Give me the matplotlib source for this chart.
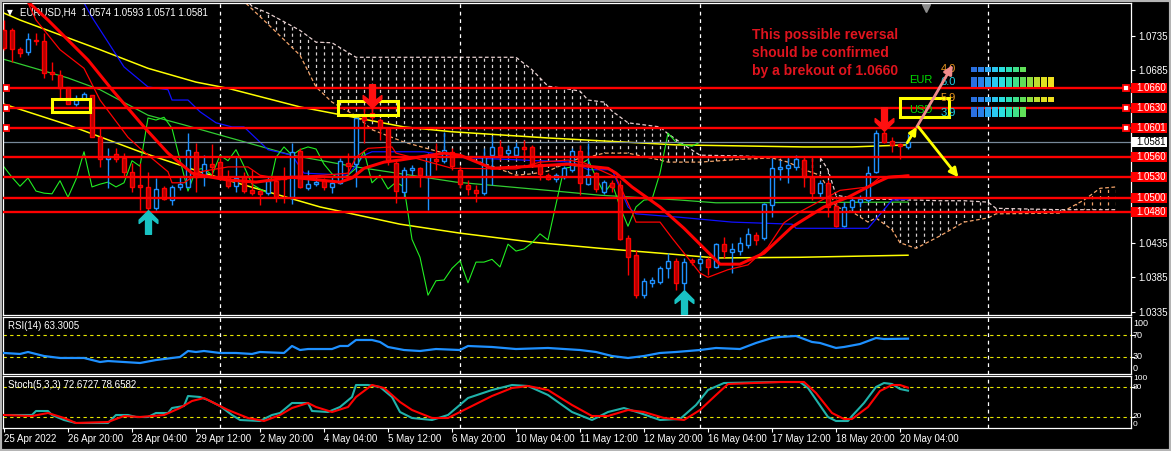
import numpy as np
import matplotlib.pyplot as plt
from matplotlib.patches import Rectangle
from matplotlib.path import Path
from matplotlib.transforms import blended_transform_factory

plt.rcParams['font.family'] = ['Liberation Sans', 'DejaVu Sans']

# ---------------- EURUSD H4 candles ----------------
opens = [1.0743, 1.0743, 1.0716, 1.0712, 1.0729, 1.0728, 1.0683, 1.0678, 1.0661, 1.0636,
         1.0643, 1.0649, 1.0588, 1.0556, 1.0564, 1.0558, 1.0538, 1.0519, 1.0516, 1.0485,
         1.0514, 1.0497, 1.0516, 1.0516, 1.0567, 1.0532, 1.0549, 1.0552, 1.0530, 1.0517,
         1.0530, 1.0511, 1.0510, 1.0507, 1.0525, 1.0530, 1.0501, 1.0568, 1.0514, 1.0520,
         1.0525, 1.0516, 1.0522, 1.0551, 1.0549, 1.0617, 1.0623, 1.0613, 1.0601, 1.0551,
         1.0509, 1.0541, 1.0543, 1.0532, 1.0556, 1.0554, 1.0567, 1.0541, 1.0519, 1.0511,
         1.0507, 1.0562, 1.0574, 1.0565, 1.0562, 1.0574, 1.0574, 1.0549, 1.0533, 1.0527,
         1.0530, 1.0541, 1.0568, 1.0520, 1.0536, 1.0509, 1.0522, 1.0519, 1.0442, 1.0417,
         1.0359, 1.0377, 1.0378, 1.0398, 1.0409, 1.0377, 1.0410, 1.0406, 1.0411, 1.0400,
         1.0433, 1.0422, 1.0423, 1.0432, 1.0446, 1.0442, 1.0490, 1.0542, 1.0543, 1.0545,
         1.0555, 1.0530, 1.0507, 1.0522, 1.0488, 1.0459, 1.0487, 1.0494, 1.0497, 1.0538,
         1.0594, 1.0583, 1.0578, 1.0574]
highs = [1.0758, 1.0746, 1.0719, 1.0739, 1.0739, 1.0739, 1.0697, 1.0686, 1.0661, 1.0649,
         1.0654, 1.0649, 1.0603, 1.0572, 1.0572, 1.0565, 1.0551, 1.0551, 1.0538, 1.0529,
         1.0517, 1.0519, 1.0532, 1.0594, 1.0580, 1.0562, 1.0578, 1.0558, 1.0541, 1.0559,
         1.0538, 1.0541, 1.0511, 1.0530, 1.0530, 1.0545, 1.0580, 1.0572, 1.0541, 1.0533,
         1.0529, 1.0530, 1.0558, 1.0565, 1.0616, 1.0632, 1.0630, 1.0616, 1.0603, 1.0555,
         1.0545, 1.0548, 1.0545, 1.0565, 1.0580, 1.0596, 1.0572, 1.0546, 1.0526, 1.0519,
         1.0572, 1.0590, 1.0584, 1.0577, 1.0581, 1.0584, 1.0577, 1.0555, 1.0536, 1.0536,
         1.0546, 1.0572, 1.0577, 1.0580, 1.0538, 1.0526, 1.0526, 1.0526, 1.0446, 1.0425,
         1.0384, 1.0385, 1.0401, 1.0420, 1.0413, 1.0413, 1.0413, 1.0417, 1.0414, 1.0435,
         1.0443, 1.0435, 1.0443, 1.0456, 1.0451, 1.0493, 1.0558, 1.0555, 1.0559, 1.0562,
         1.0559, 1.0559, 1.0526, 1.0526, 1.0493, 1.0494, 1.0501, 1.0504, 1.0546, 1.0598,
         1.0597, 1.0588, 1.0580, 1.0593]
lows = [1.0715, 1.0697, 1.0704, 1.0707, 1.0722, 1.0674, 1.0671, 1.0642, 1.0636, 1.0633,
        1.0642, 1.0588, 1.0545, 1.0514, 1.0552, 1.0530, 1.0509, 1.0483, 1.0483, 1.0483,
        1.0497, 1.0490, 1.0511, 1.0516, 1.0509, 1.0517, 1.0530, 1.0526, 1.0514, 1.0509,
        1.0507, 1.0504, 1.0490, 1.0504, 1.0494, 1.0493, 1.0491, 1.0514, 1.0511, 1.0517,
        1.0511, 1.0507, 1.0520, 1.0533, 1.0516, 1.0580, 1.0613, 1.0584, 1.0548, 1.0493,
        1.0501, 1.0533, 1.0516, 1.0483, 1.0541, 1.0551, 1.0541, 1.0514, 1.0504, 1.0494,
        1.0504, 1.0519, 1.0555, 1.0558, 1.0559, 1.0555, 1.0545, 1.0526, 1.0526, 1.0523,
        1.0527, 1.0538, 1.0504, 1.0519, 1.0509, 1.0506, 1.0509, 1.0439, 1.0388, 1.0355,
        1.0355, 1.0371, 1.0375, 1.0384, 1.0366, 1.0366, 1.0403, 1.0396, 1.0388, 1.0398,
        1.0413, 1.0391, 1.0417, 1.0427, 1.0432, 1.0439, 1.0472, 1.0526, 1.0522, 1.0541,
        1.0516, 1.0497, 1.0501, 1.0472, 1.0458, 1.0458, 1.0483, 1.0487, 1.0494, 1.0536,
        1.0580, 1.0567, 1.0556, 1.0571]
closes = [1.0717, 1.0716, 1.0710, 1.0730, 1.0728, 1.0681, 1.0680, 1.0659, 1.0636, 1.0642,
          1.0651, 1.0588, 1.0556, 1.0559, 1.0556, 1.0538, 1.0516, 1.0516, 1.0485, 1.0513,
          1.0498, 1.0516, 1.0520, 1.0570, 1.0530, 1.0549, 1.0545, 1.0530, 1.0517, 1.0529,
          1.0510, 1.0507, 1.0506, 1.0525, 1.0501, 1.0527, 1.0567, 1.0516, 1.0520, 1.0523,
          1.0516, 1.0522, 1.0554, 1.0546, 1.0616, 1.0613, 1.0617, 1.0601, 1.0555, 1.0510,
          1.0541, 1.0543, 1.0533, 1.0562, 1.0554, 1.0570, 1.0546, 1.0520, 1.0513, 1.0507,
          1.0559, 1.0574, 1.0562, 1.0570, 1.0574, 1.0571, 1.0549, 1.0535, 1.0527, 1.0533,
          1.0543, 1.0568, 1.0522, 1.0533, 1.0513, 1.0523, 1.0516, 1.0440, 1.0414, 1.0359,
          1.0380, 1.0381, 1.0398, 1.0409, 1.0377, 1.0407, 1.0407, 1.0411, 1.0400, 1.0433,
          1.0423, 1.0426, 1.0435, 1.0448, 1.0439, 1.0491, 1.0543, 1.0545, 1.0548, 1.0556,
          1.0530, 1.0507, 1.0522, 1.0487, 1.0459, 1.0487, 1.0497, 1.0498, 1.0536, 1.0594,
          1.0581, 1.0577, 1.0575, 1.0581]

date_labels = ['25 Apr 2022', '26 Apr 20:00', '28 Apr 04:00', '29 Apr 12:00', '2 May 20:00',
               '4 May 04:00', '5 May 12:00', '6 May 20:00', '10 May 04:00', '11 May 12:00',
               '12 May 20:00', '16 May 04:00', '17 May 12:00', '18 May 20:00', '20 May 04:00']
label_every = 8
week_breaks = [27, 57, 87, 123]

# ---------------- indicator lines (bar index, price) ----------------
ma_yel1_x = [0, 2, 12, 18, 24, 28, 37, 50, 56, 68, 84, 100, 106, 113]
ma_yel1_y = [1.0768, 1.0758, 1.0715, 1.0688, 1.0668, 1.0659, 1.0632, 1.0603, 1.0596, 1.0587,
             1.0577, 1.0574, 1.0574, 1.0577]
ma_yel2_x = [0, 8, 17, 24.5, 27, 39.5, 49.5, 57, 66, 74.5, 83, 89, 99.5, 113]
ma_yel2_y = [1.0636, 1.0606, 1.0567, 1.0538, 1.0529, 1.0487, 1.0462, 1.0449, 1.0436, 1.0427,
             1.0419, 1.0413, 1.0414, 1.0417]
ma_grn_x = [0, 8, 12, 18, 22.5, 28, 36, 44, 56.5, 68, 74.5, 84.5, 89, 113]
ma_grn_y = [1.0701, 1.0674, 1.0657, 1.0620, 1.0606, 1.0588, 1.0562, 1.0545, 1.0523, 1.0511,
            1.0504, 1.0497, 1.0493, 1.0494]
kijun_x = [10, 11, 15, 18, 20.5, 21, 23, 24.5, 26.5, 28.5, 30, 33, 36, 37.5, 43, 45, 46, 52.5,
           56.5, 71, 73, 76, 78, 79, 84.5, 91, 98.5, 99, 108, 110, 111, 113]
kijun_y = [1.0783, 1.0762, 1.0690, 1.0661, 1.0657, 1.0642, 1.0642, 1.0625, 1.0609, 1.0603,
           1.0603, 1.0570, 1.0562, 1.0536, 1.0533, 1.0562, 1.0567, 1.0567, 1.0559, 1.0552,
           1.0541, 1.0541, 1.0487, 1.0477, 1.0472, 1.0465, 1.0462, 1.0456, 1.0456, 1.0483,
           1.0497, 1.0498]
tenkan_x = [3, 4, 7, 10, 12, 15.5, 17, 20.5, 21, 22.5, 24.5, 28, 30.5, 32, 33.5, 40, 43, 44,
            45.5, 48.5, 49, 51, 56, 64, 67, 70.5, 72.5, 76.5, 78.5, 79, 82, 83.5, 87, 88, 90.5,
            93, 95.5, 97.5, 99.5, 104.5, 108, 109.5, 113]
tenkan_y = [1.0783, 1.0758, 1.0715, 1.0688, 1.0642, 1.0588, 1.0572, 1.0538, 1.0522, 1.0522,
            1.0538, 1.0545, 1.0545, 1.0533, 1.0530, 1.0533, 1.0536, 1.0559, 1.0572, 1.0574,
            1.0565, 1.0559, 1.0543, 1.0542, 1.0552, 1.0555, 1.0551, 1.0530, 1.0480, 1.0465,
            1.0465, 1.0442, 1.0391, 1.0385, 1.0396, 1.0403, 1.0429, 1.0464, 1.0480, 1.0511,
            1.0516, 1.0530, 1.0533]
ma_red_x = [2, 5.5, 10.5, 13.5, 17.5, 20.5, 23.5, 26, 28, 31.5, 36, 42, 43.5, 45, 47.5, 49.5,
            55, 57, 61, 66, 70.5, 75.5, 76.5, 78.5, 82, 85, 89.5, 92, 95, 98.5, 102.5, 105.5,
            109, 110.5, 113]
ma_red_y = [1.0795, 1.0758, 1.0700, 1.0657, 1.0603, 1.0565, 1.0536, 1.0530, 1.0526, 1.0523,
            1.0530, 1.0523, 1.0529, 1.0543, 1.0552, 1.0555, 1.0565, 1.0562, 1.0543, 1.0546,
            1.0549, 1.0543, 1.0536, 1.0516, 1.0487, 1.0456, 1.0404, 1.0404, 1.0420, 1.0458,
            1.0487, 1.0501, 1.0522, 1.0530, 1.0532]
chikou_shift = 26

# Ichimoku cloud spans
cloud_x = [29, 31, 33, 37, 39, 41, 44, 46, 50, 55, 58, 61, 64, 66, 68, 70, 72, 73, 75, 76,
           78, 82, 83, 85, 87, 92, 96, 98, 100, 102, 103, 104, 106, 108, 109, 111, 112, 114,
           117, 120, 123, 124, 132, 135, 137, 139]
span_b = [1.0804, 1.0778, 1.0768, 1.0743, 1.0726, 1.0725, 1.0704, 1.0704, 1.0704, 1.0704,
          1.0704, 1.0704, 1.0704, 1.0686, 1.0662, 1.0659, 1.0655, 1.0642, 1.0639, 1.0626,
          1.0609, 1.0603, 1.0593, 1.0577, 1.0562, 1.0561, 1.0559, 1.0559, 1.0559, 1.0559,
          1.0541, 1.0504, 1.0500, 1.0498, 1.0498, 1.0498, 1.0497, 1.0497, 1.0496, 1.0496,
          1.0494, 1.0485, 1.0483, 1.0483, 1.0483, 1.0483]
span_a = [1.0796, 1.0774, 1.0752, 1.0707, 1.0661, 1.0639, 1.0619, 1.0599, 1.0581, 1.0565,
          1.0558, 1.0546, 1.0533, 1.0535, 1.0539, 1.0549, 1.0558, 1.0559, 1.0565, 1.0565,
          1.0565, 1.0555, 1.0552, 1.0552, 1.0552, 1.0556, 1.0558, 1.0552, 1.0541, 1.0533,
          1.0514, 1.0487, 1.0480, 1.0465, 1.0471, 1.0454, 1.0435, 1.0427, 1.0445, 1.0465,
          1.0471, 1.0477, 1.0478, 1.0497, 1.0514, 1.0516]

levels = [1.0660, 1.0630, 1.0601, 1.0560, 1.0530, 1.0500, 1.0480]
marked_levels = [1.0660, 1.0630, 1.0601]
bid = 1.0581

# RSI(14)
rsi_x = [0, 2, 3, 5, 7, 10, 12, 13, 15, 17, 19, 21, 22, 23, 24, 25, 27, 29, 31, 32, 35, 36, 37,
         38, 41, 42, 43, 44, 46, 47, 48, 50, 52, 54, 57, 58, 61, 64, 68, 72, 74, 76, 78, 80, 82,
         84, 87, 89, 92, 94, 96, 97, 99, 101, 102, 104, 105, 107, 109, 110, 113]
rsi_v = [37.3, 35.5, 39.1, 31.8, 28.2, 28.2, 20.9, 22.7, 20.9, 19.1, 24.5, 28.2, 30.0, 40.9,
         39.1, 40.9, 37.3, 37.3, 35.5, 39.1, 37.3, 50.0, 42.7, 44.5, 44.5, 50.0, 50.0, 60.9,
         60.9, 57.3, 48.2, 42.7, 40.9, 44.5, 42.7, 50.0, 48.2, 44.5, 46.4, 42.7, 39.1, 31.8,
         28.2, 31.8, 37.3, 39.1, 42.7, 46.4, 44.5, 55.5, 64.5, 66.4, 68.2, 57.3, 55.5, 46.4,
         48.2, 53.6, 64.5, 62.7, 63.3]

# Stochastic(5,3,3)
sto_x = [0, 3.5, 4, 5.5, 6, 7.5, 9, 13, 14, 15.5, 16.5, 18, 19, 20.5, 21, 22.5, 23, 24.5, 25.5,
         27, 28.5, 29.5, 32, 33.5, 34.5, 36, 38, 38.5, 40.5, 42, 43.5, 44, 45.5, 47, 48.5, 49.5,
         51, 53.5, 55.5, 58, 61, 63.5, 65.5, 68, 71, 73.5, 75.5, 77.5, 79.5, 82, 84.5, 86.5, 88,
         90, 97, 99.5, 100.5, 103, 104, 105.5, 106, 107.5, 109, 110, 111, 112, 113]
sto_main = [24, 24, 32, 32, 24, 14, 8, 8, 24, 24, 20, 20, 28, 28, 38, 42, 62, 60, 54, 42, 24,
            14, 12, 24, 28, 48, 48, 32, 30, 40, 60, 84, 84, 80, 60, 30, 18, 14, 24, 58, 74, 84,
            82, 64, 30, 14, 30, 38, 28, 14, 16, 44, 74, 88, 90, 90, 78, 20, 12, 12, 22, 48, 80,
            88, 86, 76, 72.7]
sig_x = [0, 3.5, 5.5, 7.5, 9, 13, 15, 17, 20, 22, 23.5, 25, 26, 28, 30.5, 32.5, 34.5, 36, 38,
         39, 41, 43, 44, 46, 47.5, 49.5, 51, 53.5, 55.5, 58, 61, 63.5, 65.5, 68, 71, 73.5, 75.5,
         78, 80, 82.5, 85, 87, 89, 90.5, 97, 100, 101.5, 103.5, 105, 106, 108, 109.5, 111, 112,
         113]
sto_sig = [24, 22, 28, 18, 8, 10, 22, 20, 24, 38, 52, 58, 50, 34, 18, 12, 24, 38, 48, 40, 30,
           40, 60, 84, 78, 50, 34, 18, 18, 38, 62, 78, 82, 74, 44, 22, 22, 34, 30, 18, 14, 34,
           64, 86, 90, 90, 68, 28, 16, 16, 40, 72, 84, 84, 78.7]

# chart objects
up_arrow_bars = [18, 85]
down_arrow_bars = [46, 110]
boxes = [(6.0, 10.75, 1.0625, 1.0643), (41.75, 49.25, 1.0620, 1.0640), (112.0, 118.1, 1.0617, 1.0645)]
note_lines = ['This possible reversal', 'should be confirmed', 'by a brekout of 1.0660']
strength = [4.0, 6.0, 5.9, 3.9]

# ---------------- figure ----------------
W, H = 1171, 451
fig = plt.figure(figsize=(W / 100, H / 100), dpi=100, facecolor='black')


def frame(top, bottom):
    return [3 / W, 1 - bottom / H, 1128 / W, (bottom - top) / H]


ax = fig.add_axes(frame(3, 315))
ax_rsi = fig.add_axes(frame(317, 374))
ax_sto = fig.add_axes(frame(376, 428))
XL = (-0.125, 140.875)

for a in (ax, ax_rsi, ax_sto):
    a.set_facecolor('black')
    for s in a.spines.values():
        s.set_color('white')
        s.set_linewidth(0.9)
    a.set_xlim(*XL)
    a.tick_params(axis='both', colors='white', labelsize=7, length=3, width=0.8)
    a.yaxis.tick_right()
    for b in week_breaks:
        a.axvline(b, color='white', lw=0.9, ls=(0, (3, 3)), zorder=1.5)

RED = '#ff0000'
BULL = '#1e90ff'

# Ichimoku cloud: dashed hatching clipped to the span area
cx = np.array(cloud_x, float)
sa = np.array(span_a)
sb = np.array(span_b)
hatch_x = np.arange(cloud_x[0], cloud_x[-1] + 1)
for cond, col in ((sb >= sa, '#d9d2d2'), (sa > sb, '#f4a46a')):
    fill = ax.fill_between(cx, sa, sb, where=cond, interpolate=True, color='none')
    paths = fill.get_paths()
    if paths:
        clip = Path.make_compound_path(*paths)
        vl = ax.vlines(hatch_x, 1.02, 1.09, colors=col, lw=0.9, linestyles=(0, (2.5, 2.5)), zorder=1)
        vl.set_clip_path(clip, ax.transData)
    fill.remove()
ax.plot(cx, sb, color='#e8d0d0', lw=0.9, ls=(0, (3, 2)), zorder=1.2)
ax.plot(cx, sa, color='#f4a46a', lw=0.9, ls=(0, (3, 2)), zorder=1.2)

# moving averages & ichimoku lines
ax.plot(ma_yel1_x, ma_yel1_y, color='#ffff00', lw=1.1, zorder=2)
ax.plot(ma_yel2_x, ma_yel2_y, color='#ffff00', lw=1.1, zorder=2)
ax.plot(ma_grn_x, ma_grn_y, color='#32cd32', lw=0.9, zorder=2)
ax.plot(kijun_x, kijun_y, color='#1010ff', lw=0.9, zorder=2)
ch = np.array(closes[chikou_shift:])
ax.plot(np.arange(len(ch)), ch, color='#22ee22', lw=0.8, zorder=2)

# candles
o = np.array(opens); h = np.array(highs); l = np.array(lows); c = np.array(closes)
xb = np.arange(len(o))
up = c >= o
ax.vlines(xb[up], l[up], h[up], color=BULL, lw=1, zorder=3)
ax.vlines(xb[~up], l[~up], h[~up], color=RED, lw=1, zorder=3)
lo_b = np.minimum(o, c); hi_b = np.maximum(o, c)
ax.bar(xb[up], hi_b[up] - lo_b[up], bottom=lo_b[up], width=0.5, facecolor='black',
       edgecolor=BULL, linewidth=1, zorder=3.1)
ax.bar(xb[~up], hi_b[~up] - lo_b[~up], bottom=lo_b[~up], width=0.5, facecolor='#b00000',
       edgecolor=RED, linewidth=1, zorder=3.1)

ax.plot(tenkan_x, tenkan_y, color=RED, lw=0.9, zorder=3.5)
ax.plot(ma_red_x, ma_red_y, color=RED, lw=2.2, zorder=3.6)

# horizontal levels
ax.axhline(bid, color='#778899', lw=0.9, zorder=2.5)
for lv in levels:
    ax.axhline(lv, color=RED, lw=1.7, zorder=5)
ax.plot([0.25] * len(marked_levels), marked_levels, 's', ms=4.5, mfc='white', mec=RED, mew=1.3, zorder=6)
ax.plot([140.25] * len(marked_levels), marked_levels, 's', ms=4.5, mfc='white', mec=RED, mew=1.3,
        zorder=6, clip_on=False)

# rectangles
for x0, x1, y0, y1 in boxes:
    ax.add_patch(Rectangle((x0, y0), x1 - x0, y1 - y0, fill=False, ec='#ffff00', lw=2.2, zorder=6))

# arrows (wingdings style)
arrow = Path([(0, 12), (9.5, 2.5), (9.5, -1), (3, 4), (3, -12), (-3, -12), (-3, 4),
              (-9.5, -1), (-9.5, 2.5), (0, 12)], closed=True)
arrow_dn = Path(arrow.vertices * np.array([1, -1]), arrow.codes)
half = 12 * 0.000145
for b in up_arrow_bars:
    ax.plot(b, lows[b] - half, marker=arrow, ms=17, color='#19c3c3', mec='#19c3c3', zorder=7)
for b in down_arrow_bars:
    ax.plot(b, highs[b] + half, marker=arrow_dn, ms=17, color='#ff1010', mec='#ff1010', zorder=7)

# note text
for i, line in enumerate(note_lines):
    ax.text(93.5, 1.0730 - i * 0.00262, line, color='#e0141e', fontsize=10, fontweight='bold',
            va='baseline', ha='left', zorder=8)

# currency strength meter
ax.text(113.1, 1.0667, 'EUR', color='#00dd00', fontsize=8, va='baseline', zorder=8)
ax.text(113.1, 1.0623, 'USD', color='#00dd00', fontsize=8, va='baseline', zorder=8)
num_y = [1.0682, 1.0664, 1.0640, 1.0619]
num_c = ['#e8961e', '#1ed2e6', '#e8961e', '#1ed2e6']
row_lo = [1.0683, 1.0661, 1.0639, 1.0617]
row_hi = [1.0690, 1.0675, 1.0646, 1.0632]
meter_cols = ['#2a6fe0', '#2a80e8', '#2aa8f0', '#2ac8f0', '#2ae0e0', '#2ae0b4', '#40e088',
              '#60e058', '#90e040', '#c0e030', '#e0e020', '#f0e020']
for v, ny, nc, r0, r1 in zip(strength, num_y, num_c, row_lo, row_hi):
    ax.text(117.1, ny, f'{v:.1f}', color=nc, fontsize=8, va='baseline', zorder=8)
    n = int(round(v * 2))
    xs = 120.9 + 0.875 * np.arange(n)
    ax.bar(xs, r1 - r0, bottom=r0, width=0.75, align='edge', color=meter_cols[:n], zorder=8)

# drawn arrows
ax.annotate('', xy=(118.6, 1.0693), xytext=(114.1, 1.0603),
            arrowprops=dict(arrowstyle='-|>', color='#f08c8c', lw=2, mutation_scale=13,
                            shrinkA=0, shrinkB=0), zorder=9)
ax.annotate('', xy=(119.3, 1.0530), xytext=(114.3, 1.0603),
            arrowprops=dict(arrowstyle='-|>', color='#ffff00', lw=2, mutation_scale=13,
                            shrinkA=0, shrinkB=0), zorder=9)
ax.annotate('', xy=(114.1, 1.0603), xytext=(112.9, 1.0580),
            arrowprops=dict(arrowstyle='-|>', color='#ffff00', lw=2, mutation_scale=11,
                            shrinkA=0, shrinkB=0), zorder=9)

# chart shift marker
ax.plot([115.25], [0.985], marker='v', ms=6, color='#8c8c8c',
        transform=blended_transform_factory(ax.transData, ax.transAxes), clip_on=False)

# price axis: grid prices hidden under the level tags are left blank
ax.set_ylim(1.03303, 1.07827)
grid_prices = [1.0335 + 0.005 * k for k in range(9)]
tagged = levels + [bid]
ax.set_yticks(grid_prices)
ax.set_yticklabels(['' if min(abs(p - t) for t in tagged) < 0.0008 else f'{p:.4f}'
                    for p in grid_prices])
ax.tick_params(axis='y', pad=2)
ax.tick_params(axis='x', bottom=False, labelbottom=False)
ytr = blended_transform_factory(ax.transAxes, ax.transData)
box_w = 36 / 1128
box_h = 10 * 0.000145
for lv in levels:
    ax.add_patch(Rectangle((1.0, lv - box_h / 2), box_w, box_h, transform=ytr, fc=RED, ec='none',
                           clip_on=False, zorder=10))
    ax.text(1 + 5 / 1128, lv, f'{lv:.4f}', transform=ytr, color='white', fontsize=7,
            va='center', ha='left', zorder=11, clip_on=False)
ax.add_patch(Rectangle((1.0, bid - box_h / 2), box_w, box_h, transform=ytr, fc='white', ec='none',
                       clip_on=False, zorder=10))
ax.text(1 + 5 / 1128, bid, f'{bid:.4f}', transform=ytr, color='black', fontsize=7,
        va='center', ha='left', zorder=11, clip_on=False)

# header
ax.text(4 / 1128, 0.971, '\u25bc', transform=ax.transAxes, color='white', fontsize=5.5,
        family='DejaVu Sans', va='center')
ax.text(17 / 1128, 0.971, 'EURUSD,H4  1.0574 1.0593 1.0571 1.0581', transform=ax.transAxes,
        color='white', fontsize=7, va='center')

# RSI panel
ax_rsi.plot(rsi_x, rsi_v, color='#1e90ff', lw=1.6, zorder=3)
for lv in (70, 30):
    ax_rsi.axhline(lv, color='#e6e600', lw=0.8, ls=(0, (3, 3)), zorder=2)
ax_rsi.set_ylim(-0.9, 102.7)
ax_rsi.set_yticks([70, 30])
ax_rsi.set_yticklabels([])
ax_rsi.tick_params(axis='x', bottom=False, labelbottom=False)
rtr = blended_transform_factory(ax_rsi.transAxes, ax_rsi.transData)
for txt, pos in (('100', 91), ('70', 69), ('30', 30), ('0', 9)):
    ax_rsi.text(1 + 2 / 1128, pos, txt, transform=rtr, color='white', fontsize=6.5, va='center')
ax_rsi.text(5 / 1128, 0.79, 'RSI(14) 63.3005', transform=ax_rsi.transAxes, color='white',
            fontsize=7, va='baseline')

# Stochastic panel
ax_sto.plot(sto_x, sto_main, color='#20b2aa', lw=1.5, zorder=3)
ax_sto.plot(sig_x, sto_sig, color=RED, lw=1.5, zorder=3.1)
for lv in (80, 20):
    ax_sto.axhline(lv, color='#e6e600', lw=0.8, ls=(0, (3, 3)), zorder=2)
ax_sto.set_ylim(-2, 102)
ax_sto.set_yticks([80, 20])
ax_sto.set_yticklabels([])
str_ = blended_transform_factory(ax_sto.transAxes, ax_sto.transData)
for txt, pos, dx in (('100', 96, 2), ('80', 79, 2), ('20', 22, 2), ('0', 5, 2)):
    ax_sto.text(1 + dx / 1128, pos, txt, transform=str_, color='white', fontsize=6, va='center')
ax_sto.text(5 / 1128, 0.77, 'Stoch(5,3,3) 72.6727 78.6582', transform=ax_sto.transAxes,
            color='white', fontsize=7, va='baseline')

ax_sto.set_xticks(np.arange(len(date_labels)) * label_every)
ax_sto.set_xticklabels(date_labels, ha='left')
ax_sto.tick_params(axis='x', pad=1.5)
ax_sto.set_xlim(*XL)

fig.patches.append(Rectangle((0, 0), 1, 1, transform=fig.transFigure, fill=False,
                             ec='#b4b4b4', lw=3))

fig.savefig('out.png', dpi=100, facecolor='black')
